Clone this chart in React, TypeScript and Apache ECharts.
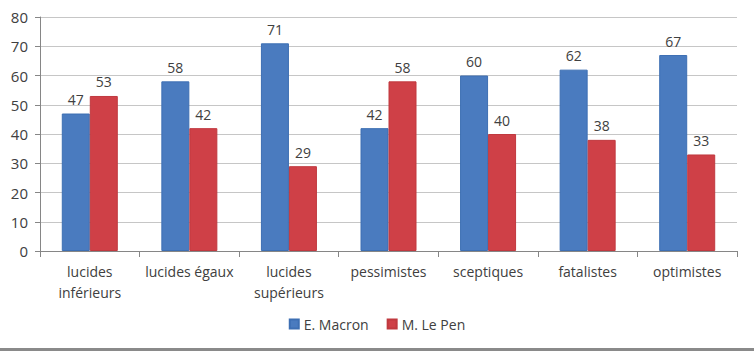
import React, { useEffect, useRef } from "react";
import * as echarts from "echarts";

const categories = [
  "lucides\ninférieurs",
  "lucides égaux",
  "lucides\nsupérieurs",
  "pessimistes",
  "sceptiques",
  "fatalistes",
  "optimistes",
];
const macron = [47, 58, 71, 42, 60, 62, 67];
const lepen = [53, 42, 29, 58, 40, 38, 33];
const seriesNames = ["E. Macron", "M. Le Pen"];

const FONT = "'Open Sans', 'Liberation Sans', sans-serif";
const TXT = "#404040";

export default function App() {
  const ref = useRef<HTMLDivElement>(null);
  useEffect(() => {
    if (!ref.current) return;
    const chart = echarts.init(ref.current, null, { renderer: "svg" });
    const label = {
      show: true,
      position: "top",
      distance: 7,
      color: TXT,
      fontSize: 14,
      fontFamily: FONT,
    };
    chart.setOption({
      animation: false,
      textStyle: { fontFamily: FONT },
      grid: { left: 40, right: 17, top: 17, bottom: 101, containLabel: false },
      legend: {
        bottom: 16,
        left: "center",
        itemWidth: 9,
        itemHeight: 9,
        itemGap: 18,
        icon: "rect",
        textStyle: { color: TXT, fontSize: 14, fontFamily: FONT },
        data: seriesNames,
      },
      xAxis: {
        type: "category",
        data: categories,
        axisLine: { lineStyle: { color: "#868686" } },
        axisTick: { show: true, length: 6, lineStyle: { color: "#868686" } },
        axisLabel: {
          color: TXT,
          fontSize: 14,
          fontFamily: FONT,
          lineHeight: 21,
          margin: 10,
          interval: 0,
        },
      },
      yAxis: {
        type: "value",
        min: 0,
        max: 80,
        interval: 10,
        axisLine: { show: true, lineStyle: { color: "#868686" } },
        axisTick: { show: true, length: 5, lineStyle: { color: "#868686" } },
        axisLabel: { color: TXT, fontSize: 15, fontFamily: FONT, margin: 12 },
        splitLine: { lineStyle: { color: "#c6c6c6" } },
      },
      series: [
        {
          name: seriesNames[0],
          type: "bar",
          data: macron,
          barWidth: 28,
          barGap: "0%",
          itemStyle: { color: "#4a7bbf", borderColor: "#3d6fb3", borderWidth: 1 },
          label,
        },
        {
          name: seriesNames[1],
          type: "bar",
          data: lepen,
          barWidth: 28,
          barGap: "0%",
          itemStyle: { color: "#cf4047", borderColor: "#c0393f", borderWidth: 1 },
          label,
        },
      ],
      graphic: [
        {
          type: "rect",
          shape: { x: 0, y: 348, width: 754, height: 3 },
          style: { fill: "#8a8a8a" },
        },
      ],
    });
    return () => chart.dispose();
  }, []);
  return (
    <div
      ref={ref}
      style={{ position: "absolute", left: 0, top: 0, width: 754, height: 352, background: "#fff" }}
    />
  );
}
